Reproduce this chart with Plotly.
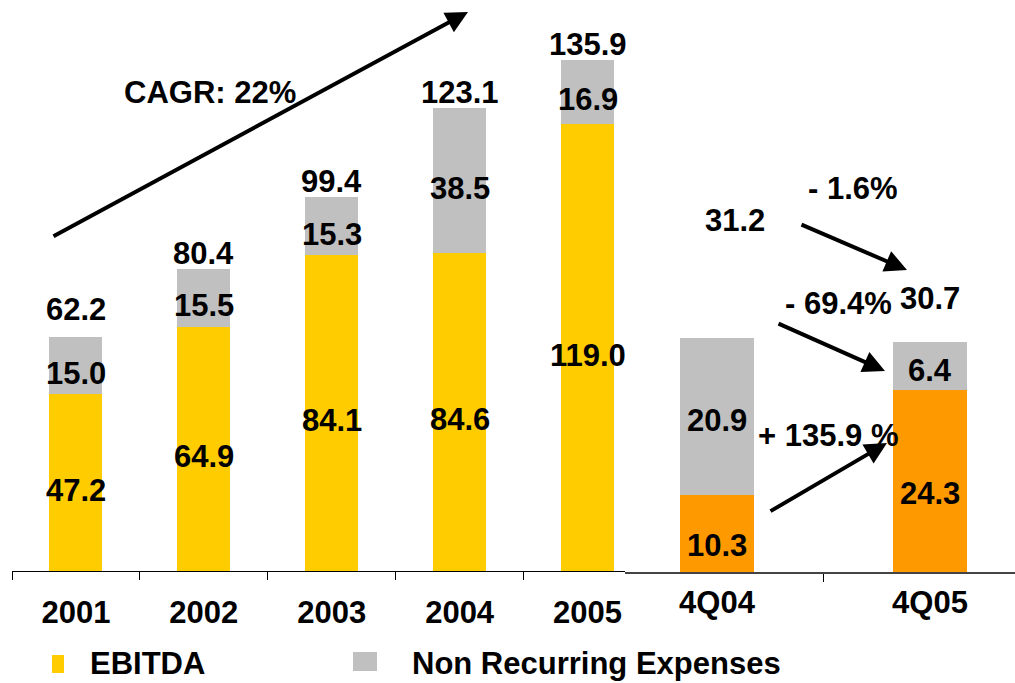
import plotly.graph_objects as go

# ---- data ----
years = ["2001", "2002", "2003", "2004", "2005"]
ebitda_year = [47.2, 64.9, 84.1, 84.6, 119.0]
nonrec_year = [15.0, 15.5, 15.3, 38.5, 16.9]
total_year = [62.2, 80.4, 99.4, 123.1, 135.9]

quarters = ["4Q04", "4Q05"]
ebitda_q = [10.3, 24.3]
nonrec_q = [20.9, 6.4]
total_q = [31.2, 30.7]

legend_labels = ["EBITDA", "Non Recurring Expenses"]
cagr_text = "CAGR: 22%"
change_texts = ["- 1.6%", "- 69.4%", "+ 135.9 %"]

# ---- style ----
W, H = 1015, 683
FONT = "Liberation Sans, Arial, sans-serif"
YELLOW = "#FFCC00"
ORANGE = "#FF9900"
GRAY = "#C0C0C0"
FS = 31


def px(x):
    return x / W


def py(y):
    return 1 - y / H


fig = go.Figure()

fig.add_trace(go.Bar(x=years, y=ebitda_year, marker=dict(color=YELLOW, line=dict(width=0)),
                     width=0.414, xaxis="x", yaxis="y", name=legend_labels[0], showlegend=False))
fig.add_trace(go.Bar(x=years, y=nonrec_year, marker=dict(color=GRAY, line=dict(width=0)),
                     width=0.414, xaxis="x", yaxis="y", name=legend_labels[1], showlegend=False))
fig.add_trace(go.Bar(x=quarters, y=ebitda_q, marker=dict(color=ORANGE, line=dict(width=0)),
                     width=0.35, xaxis="x2", yaxis="y2", name=legend_labels[0], showlegend=False))
fig.add_trace(go.Bar(x=quarters, y=nonrec_q, marker=dict(color=GRAY, line=dict(width=0)),
                     width=0.35, xaxis="x2", yaxis="y2", name=legend_labels[1], showlegend=False))

annotations = []
tfont = dict(family=FONT, size=FS, color="black", weight="bold")


def lab(x, y, text, xref, yref, **kw):
    d = dict(x=x, y=y, xref=xref, yref=yref, text=text, showarrow=False, font=tfont,
             xanchor="center", yanchor="middle")
    d.update(kw)
    annotations.append(d)


# segment labels (annual) -- category index positions
for i in range(len(years)):
    lab(i, ebitda_year[i] / 2, f"{ebitda_year[i]:.1f}", "x", "y", yshift=-8)
    lab(i, ebitda_year[i] + nonrec_year[i] / 2, f"{nonrec_year[i]:.1f}", "x", "y", yshift=-8)
    lab(i, total_year[i], f"{total_year[i]:.1f}", "x", "y", yanchor="bottom", yshift=-4 if i else 8)

# segment labels (quarterly)
for i in range(len(quarters)):
    lab(i, ebitda_q[i] / 2, f"{ebitda_q[i]:.1f}", "x2", "y2", yshift=-12)
    lab(i, ebitda_q[i] + nonrec_q[i] / 2, f"{nonrec_q[i]:.1f}", "x2", "y2", yshift=-4)
lab(0, total_q[0], f"{total_q[0]:.1f}", "x2", "y2", yanchor="bottom", yshift=98, xshift=18)
lab(1, total_q[1], f"{total_q[1]:.1f}", "x2", "y2", yanchor="bottom", yshift=24)

# CAGR text + arrows
lab(px(210), py(92), cagr_text, "paper", "paper")
arrows = [((52, 237), (468, 12)), ((800, 224), (907, 270)), ((777, 323), (885, 371)), ((769, 512), (887, 443))]
for (tx, ty), (hx, hy) in arrows:
    annotations.append(dict(x=px(hx), y=py(hy), xref="paper", yref="paper", text="",
                            showarrow=True, ax=tx - hx, ay=ty - hy, axref="pixel", ayref="pixel",
                            arrowhead=2, arrowsize=1.1, arrowwidth=4, arrowcolor="black", standoff=0))
for t, (cx, cy) in zip(change_texts, [(853, 188), (838, 303), (828, 435)]):
    lab(px(cx), py(cy), t, "paper", "paper")

# legend
shapes = [
    dict(type="rect", xref="paper", yref="paper", x0=px(52), x1=px(64), y0=py(673), y1=py(655),
         fillcolor=YELLOW, line=dict(width=0)),
    dict(type="rect", xref="paper", yref="paper", x0=px(353), x1=px(377), y0=py(671), y1=py(652),
         fillcolor=GRAY, line=dict(width=0)),
]
lfont = dict(family=FONT, size=31, color="black", weight="bold")
lab(px(88), py(663), legend_labels[0], "paper", "paper", xanchor="left", font=lfont)
lab(px(410), py(663), legend_labels[1], "paper", "paper", xanchor="left", font=lfont)

fig.update_layout(
    width=W, height=H, margin=dict(l=0, r=0, t=0, b=0),
    paper_bgcolor="white", plot_bgcolor="rgba(0,0,0,0)",
    barmode="stack", font=dict(family=FONT, size=FS, color="black"),
    annotations=annotations, shapes=shapes, showlegend=False,
    xaxis=dict(type="category", domain=[px(12), px(625)], range=[-0.5, 4.293],
               showline=True, linecolor="black", linewidth=1, ticks="outside", ticklen=8,
               tickcolor="black", tickson="boundaries", showgrid=False, zeroline=False,
               tickfont=dict(family=FONT, size=FS, color="black", weight="bold"),
               ticklabelstandoff=14, anchor="y"),
    yaxis=dict(domain=[py(571), 1], range=[0, 571 / 3.76], visible=False, anchor="x"),
    xaxis2=dict(type="category", domain=[px(625), 1], range=[-0.432, 1.399],
                showline=True, linecolor="#444444", linewidth=2, ticks="outside", ticklen=8,
                tickcolor="black", tickson="boundaries", showgrid=False, zeroline=False,
                tickfont=dict(family=FONT, size=FS, color="black", weight="bold"),
                ticklabelstandoff=2, anchor="y2"),
    yaxis2=dict(domain=[py(572), 1], range=[0, 572 / 7.49], visible=False, anchor="x2"),
)

fig.write_html("out.html")
